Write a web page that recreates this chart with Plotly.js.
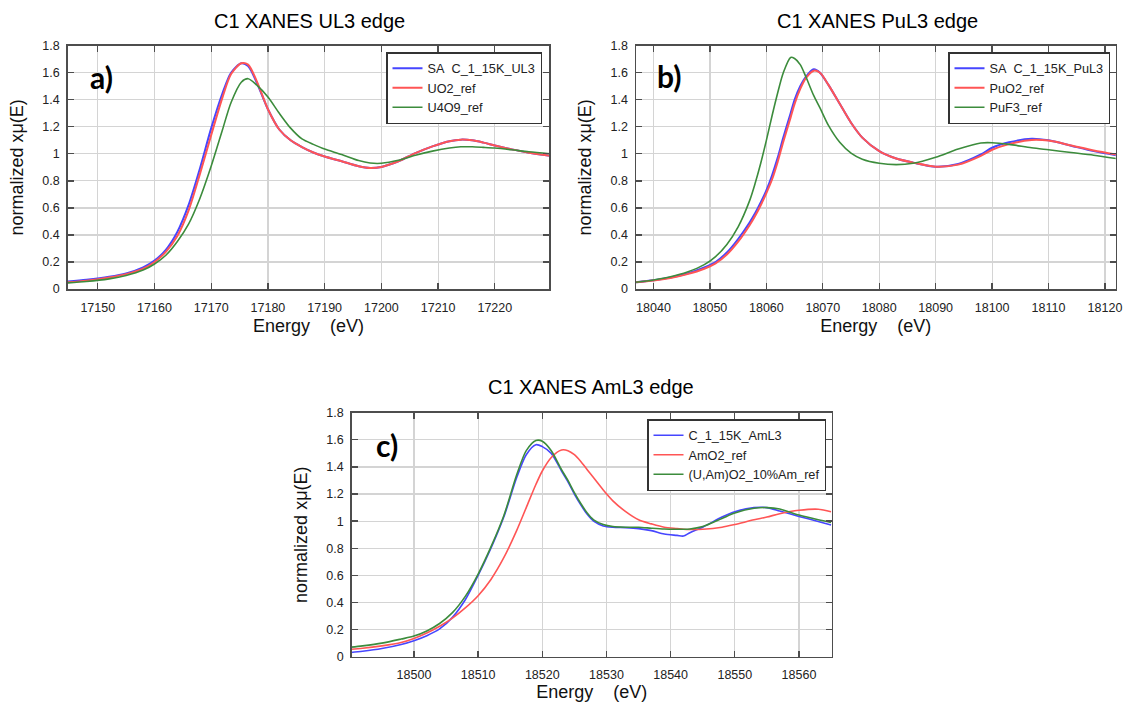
<!DOCTYPE html>
<html>
<head>
<meta charset="utf-8">
<script src="https://cdn.plot.ly/plotly-3.0.1.min.js"></script>
<style>html,body{margin:0;padding:0;background:#fff;}#chart{width:1126px;height:702px;}</style>
</head>
<body>
<div id="chart"></div>
<script>
// ---- Panel a) U L3 edge ----
const ul3_energy = [17144.7,17148,17152,17155,17158,17160,17162,17164,17166,17168,17170,17172,17173.5,17175.3,17176.5,17178,17180,17182,17184,17186,17188,17190,17193,17196,17198,17200,17203,17206,17209,17212,17214,17216,17218,17220,17223,17226,17230];
const ul3_sa   = [0.055,0.068,0.09,0.115,0.16,0.21,0.29,0.42,0.62,0.89,1.19,1.45,1.6,1.67,1.65,1.53,1.33,1.18,1.10,1.05,1.01,0.98,0.945,0.908,0.895,0.903,0.945,1.005,1.055,1.093,1.105,1.1,1.083,1.062,1.033,1.008,0.985];
const ul3_uo2  = [0.05,0.062,0.085,0.11,0.15,0.2,0.275,0.39,0.58,0.85,1.14,1.42,1.59,1.67,1.66,1.54,1.33,1.18,1.10,1.05,1.01,0.98,0.945,0.908,0.895,0.903,0.945,1.005,1.055,1.093,1.105,1.1,1.083,1.062,1.033,1.008,0.985];
const ul3_u4o9 = [0.045,0.055,0.075,0.1,0.14,0.185,0.25,0.35,0.48,0.67,0.91,1.18,1.38,1.53,1.556,1.51,1.42,1.3,1.19,1.11,1.07,1.035,0.995,0.95,0.932,0.93,0.952,0.99,1.02,1.043,1.052,1.052,1.048,1.043,1.03,1.015,1.0];
const ul3_names = ['SA\u00a0\u00a0C_1_15K_UL3','UO2_ref','U4O9_ref'];

// ---- Panel b) Pu L3 edge ----
const pul3_energy = [18036.9,18040,18043,18046,18049,18051,18053,18055,18057,18058,18059,18060,18061,18062,18063,18064.3,18065,18066,18067,18068.4,18069.5,18071,18073,18075,18077,18080,18083,18086,18090,18094,18098,18100,18103,18107,18110,18114,18118,18122];
const pul3_sa   = [0.05,0.065,0.085,0.115,0.16,0.2,0.27,0.37,0.49,0.56,0.64,0.73,0.84,0.97,1.12,1.3,1.4,1.5,1.57,1.625,1.6,1.51,1.37,1.23,1.12,1.02,0.965,0.935,0.905,0.925,0.995,1.045,1.085,1.112,1.1,1.06,1.02,0.99];
const pul3_puo2 = [0.05,0.063,0.082,0.11,0.15,0.19,0.255,0.35,0.47,0.54,0.62,0.71,0.81,0.94,1.09,1.27,1.37,1.48,1.56,1.615,1.6,1.51,1.37,1.23,1.12,1.02,0.965,0.935,0.905,0.92,0.985,1.03,1.072,1.103,1.098,1.062,1.025,0.995];
const pul3_puf3 = [0.05,0.067,0.09,0.125,0.18,0.24,0.33,0.46,0.65,0.78,0.93,1.1,1.28,1.45,1.6,1.713,1.705,1.66,1.57,1.43,1.34,1.21,1.085,1.005,0.96,0.93,0.92,0.93,0.975,1.035,1.08,1.082,1.07,1.045,1.03,1.01,0.99,0.965];
const pul3_names = ['SA\u00a0\u00a0C_1_15K_PuL3','PuO2_ref','PuF3_ref'];

// ---- Panel c) Am L3 edge ----
const aml3_energy = [18489.9,18492,18495,18498,18500,18502,18504,18506,18508,18510,18512,18514,18516,18517.5,18519,18520,18521.4,18523,18524,18525,18526,18527,18528,18529.5,18531,18533,18535,18537,18539,18541,18542,18543,18545,18548,18550,18553,18555,18557,18560,18563,18565];
const aml3_sample = [0.03,0.04,0.06,0.09,0.118,0.155,0.205,0.29,0.42,0.6,0.8,1.03,1.32,1.49,1.564,1.55,1.5,1.37,1.29,1.2,1.12,1.05,1.0,0.965,0.955,0.952,0.945,0.93,0.905,0.895,0.89,0.915,0.955,1.03,1.07,1.1,1.1,1.075,1.035,0.998,0.972];
const aml3_amo2   = [0.054,0.062,0.08,0.105,0.135,0.175,0.225,0.285,0.36,0.45,0.57,0.73,0.93,1.1,1.27,1.37,1.47,1.525,1.52,1.49,1.44,1.38,1.32,1.23,1.15,1.07,1.01,0.98,0.955,0.945,0.94,0.938,0.94,0.955,0.975,1.01,1.03,1.055,1.08,1.088,1.07];
const aml3_uamo2  = [0.069,0.08,0.1,0.13,0.152,0.19,0.245,0.325,0.445,0.61,0.81,1.04,1.34,1.52,1.595,1.59,1.52,1.38,1.3,1.21,1.13,1.06,1.01,0.975,0.96,0.955,0.955,0.948,0.942,0.94,0.94,0.942,0.96,1.02,1.06,1.095,1.1,1.09,1.045,1.01,0.99];
const aml3_names = ['C_1_15K_AmL3','AmO2_ref','(U,Am)O2_10%Am_ref'];

// ---- shared tick labels ----
const y_tickvals = [0,0.2,0.4,0.6,0.8,1,1.2,1.4,1.6,1.8];
const y_ticktext = ['0','0.2','0.4','0.6','0.8','1','1.2','1.4','1.6','1.8'];

const colBlue = '#4646ff', colRed = '#ff5555', colGreen = '#3c8c3c';
const FONT = 'Liberation Sans, Arial, sans-serif';

function tr(x, y, name, color, w, xa, ya, lg) {
  return {x: x, y: y, name: name, type: 'scatter', mode: 'lines',
    line: {color: color, width: w, shape: 'spline', smoothing: 0.8},
    xaxis: xa, yaxis: ya, legend: lg, hoverinfo: 'x+y+name'};
}

const data = [
  tr(ul3_energy, ul3_sa, ul3_names[0], colBlue, 2, 'x', 'y', 'legend'),
  tr(ul3_energy, ul3_uo2, ul3_names[1], colRed, 2, 'x', 'y', 'legend'),
  tr(ul3_energy, ul3_u4o9, ul3_names[2], colGreen, 1.6, 'x', 'y', 'legend'),
  tr(pul3_energy, pul3_sa, pul3_names[0], colBlue, 2, 'x2', 'y2', 'legend2'),
  tr(pul3_energy, pul3_puo2, pul3_names[1], colRed, 2, 'x2', 'y2', 'legend2'),
  tr(pul3_energy, pul3_puf3, pul3_names[2], colGreen, 1.6, 'x2', 'y2', 'legend2'),
  tr(aml3_energy, aml3_sample, aml3_names[0], colBlue, 1.6, 'x3', 'y3', 'legend3'),
  tr(aml3_energy, aml3_amo2, aml3_names[1], colRed, 1.6, 'x3', 'y3', 'legend3'),
  tr(aml3_energy, aml3_uamo2, aml3_names[2], colGreen, 1.6, 'x3', 'y3', 'legend3')
];

function xax(domain, range, anchor) {
  return {domain: domain, range: range, anchor: anchor, dtick: 10, tick0: 0,
    tickformat: 'd', exponentformat: 'none', showline: true, mirror: 'allticks',
    linecolor: '#4d4d4d', linewidth: 1.5, ticks: 'inside', ticklen: 6, tickwidth: 1.3,
    tickcolor: '#4d4d4d', showgrid: true, gridcolor: '#d4d4d4', gridwidth: 1.2,
    zeroline: false, tickfont: {family: FONT, size: 12.5, color: '#222'}, ticklabelstandoff: 6,
    title: {text: 'Energy\u00a0\u00a0\u00a0\u00a0(eV)', font: {family: FONT, size: 18, color: '#111'}, standoff: 6}};
}
function yax(domain, anchor) {
  return {domain: domain, range: [0, 1.8], anchor: anchor, tickvals: y_tickvals, ticktext: y_ticktext,
    showline: true, mirror: 'allticks', linecolor: '#4d4d4d', linewidth: 1.5,
    ticks: 'inside', ticklen: 6, tickwidth: 1.3, tickcolor: '#4d4d4d',
    showgrid: true, gridcolor: '#d4d4d4', gridwidth: 1.2, zeroline: false,
    tickfont: {family: FONT, size: 12.5, color: '#222'}, ticklabelstandoff: 4,
    title: {text: 'normalized x\u03bc(E)', font: {family: FONT, size: 18, color: '#111'}, standoff: 14}};
}
function leg(x, y) {
  return {x: x, y: y, xanchor: 'right', yanchor: 'top', bgcolor: '#fff',
    bordercolor: '#333', borderwidth: 1.5, font: {family: FONT, size: 12.7, color: '#222'},
    tracegroupgap: 0, itemclick: false};
}
function ann(text, x, y, size, bold, fam) {
  return {text: bold ? '<b>' + text + '</b>' : text, x: x, y: y, xref: 'paper', yref: 'paper',
    xanchor: 'center', yanchor: 'middle', showarrow: false,
    font: {family: fam || FONT, size: size, color: '#000'}};
}

const W = 1126, H = 702;
const layout = {
  width: W, height: H, margin: {l: 0, r: 0, t: 0, b: 0},
  paper_bgcolor: '#fff', plot_bgcolor: '#fff', showlegend: true,
  font: {family: FONT},
  xaxis: xax([67.7 / W, 549.3 / W], [17144.7, 17229.6], 'y'),
  yaxis: yax([1 - 289 / H, 1 - 45.7 / H], 'x'),
  xaxis2: xax([636 / W, 1115.7 / W], [18036.9, 18121.9], 'y2'),
  yaxis2: yax([1 - 289 / H, 1 - 45.7 / H], 'x2'),
  xaxis3: xax([351.7 / W, 831.7 / W], [18490.3, 18565.1], 'y3'),
  yaxis3: yax([1 - 656.7 / H, 1 - 412.7 / H], 'x3'),
  legend: leg(542 / W, 1 - 52 / H),
  legend2: leg(1110 / W, 1 - 52 / H),
  legend3: leg(826 / W, 1 - 419 / H),
  annotations: [
    ann('C1 XANES UL3 edge', 309 / W, 1 - 20.5 / H, 20, false),
    ann('C1 XANES PuL3 edge', 877 / W, 1 - 20.5 / H, 20, false),
    ann('C1 XANES AmL3 edge', 591 / W, 1 - 387 / H, 20, false),
    ann('a)', 101 / W, 1 - 77 / H, 30, true, 'Lato, Liberation Sans, sans-serif'),
    ann('b)', 669 / W, 1 - 76 / H, 30, true, 'Lato, Liberation Sans, sans-serif'),
    ann('c)', 387 / W, 1 - 445 / H, 30, true, 'Lato, Liberation Sans, sans-serif')
  ]
};

Plotly.newPlot('chart', data, layout, {staticPlot: true, displayModeBar: false});
</script>
</body>
</html>
